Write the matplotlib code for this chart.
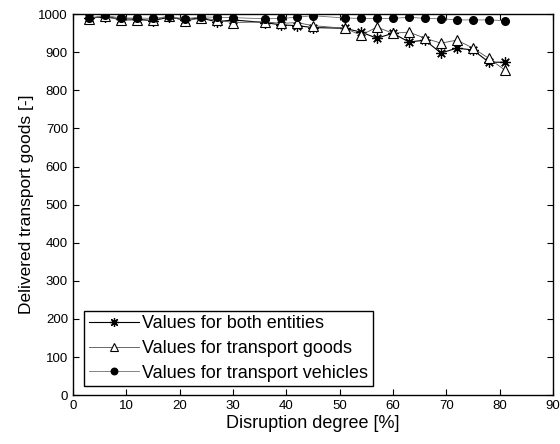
import numpy as np
import matplotlib
matplotlib.use('Agg')
import matplotlib.pyplot as plt

plt.rcParams['font.family'] = ['Liberation Sans', 'DejaVu Sans']

# Disruption degree [%]
x = [3, 6, 9, 12, 15, 18, 21, 24, 27, 30, 36, 39, 42, 45,
     51, 54, 57, 60, 63, 66, 69, 72, 75, 78, 81]

# Delivered transport goods
both = [990, 993, 988, 987, 983, 992, 986, 990, 980, 985, 978, 972, 970, 965,
        963, 953, 937, 950, 927, 932, 898, 911, 906, 874, 874]
goods = [988, 995, 984, 985, 984, 995, 982, 990, 985, 978, 980, 976, 978, 970,
         963, 945, 966, 950, 953, 937, 924, 932, 911, 884, 853]
vehicles = [990, 997, 990, 990, 989, 994, 988, 993, 992, 991, 988, 989, 992, 996,
            990, 989, 989, 989, 992, 989, 988, 985, 985, 985, 983]

labels = ['Values for both entities', 'Values for transport goods',
          'Values for transport vehicles']

fig = plt.figure(figsize=(5.6, 4.44), dpi=100)
ax = fig.add_axes([0.130, 0.110, 0.8575, 0.858])

# matlab-like asterisk: 8 spokes
ax.plot(x, both, '-', marker=(8, 2, 0), color='black', lw=0.8, ms=7.5, mew=0.9,
        label=labels[0])
ax.plot(x, goods, '-^', color='#505050', lw=0.6, ms=7.5, mfc='white', mec='black',
        mew=0.8, label=labels[1])
ax.plot(x, vehicles, '-o', color='#707070', lw=0.6, ms=5.5, mfc='black',
        mec='black', label=labels[2])

ax.set_xlim(0, 90)
ax.set_ylim(0, 1000)
ax.set_xticks(np.arange(0, 91, 10))
ax.set_yticks(np.arange(0, 1001, 100))
ax.tick_params(direction='in', top=True, right=True, labelsize=9.5, length=4,
               width=0.8)
for s in ax.spines.values():
    s.set_linewidth(1.0)

ax.set_xlabel('Disruption degree [%]', fontsize=13, labelpad=2)
ax.set_ylabel('Delivered transport goods [-]', fontsize=12.5, labelpad=3)

leg = ax.legend(loc='lower left', bbox_to_anchor=(0.005, 0.0), fontsize=13,
                handlelength=2.8, handletextpad=0.15, borderpad=0.25,
                labelspacing=0.42, fancybox=False, framealpha=1,
                borderaxespad=0.5, markerscale=0.85)
leg.get_frame().set_edgecolor('black')
leg.get_frame().set_linewidth(1.0)

fig.savefig('out.png', dpi=100)
